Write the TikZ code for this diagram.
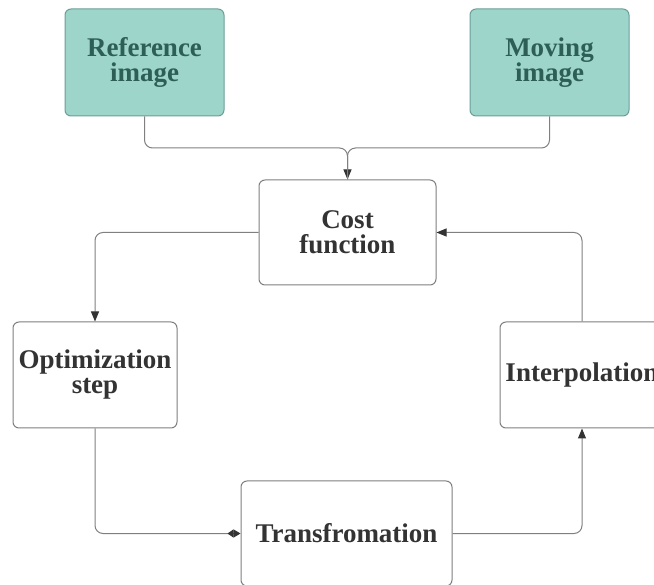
\documentclass[tikz,border=0pt]{standalone}
\usepackage{fontspec}
\setmainfont{Liberation Serif}
\usetikzlibrary{arrows.meta}
\definecolor{tealfill}{HTML}{9DD5CB}
\definecolor{tealdraw}{HTML}{6A9F96}
\definecolor{tealtext}{HTML}{2E5F57}
\definecolor{boxdraw}{HTML}{7F7F7F}
\definecolor{txt}{HTML}{333333}
\definecolor{linec}{HTML}{808080}
\begin{document}
\begin{tikzpicture}[x=1pt,y=-1pt,
  box/.style={draw=boxdraw,line width=1pt,rounded corners=6pt,fill=white,
    align=center,inner sep=0pt,text=txt,
    font=\fontsize{27}{25}\selectfont\bfseries},
  tealbox/.style={box,fill=tealfill,draw=tealdraw,text=tealtext},
  conn/.style={draw=linec,line width=1pt,rounded corners=8pt},
  tip/.style={-{Triangle[length=10pt,width=8pt,fill=txt,color=txt]}}
]
\useasboundingbox (0,0) rectangle (654,585);
\begin{scope}
\clip (0,0) rectangle (654,585);
\node[tealbox,minimum width=159pt,minimum height=107pt] (ref) at (144.5,62.5) {Reference\\image};
\node[tealbox,minimum width=159pt,minimum height=107pt] (mov) at (549.5,62.5) {Moving\\image};
\node[box,minimum width=177pt,minimum height=105pt] (cost) at (347.5,232.5) {Cost\\function};
\node[box,minimum width=164pt,minimum height=106pt] (opt) at (95,375) {Optimization\\step};
\node[box,minimum width=211pt,minimum height=105pt] (trans) at (346.5,533.5) {Transfromation};
\node[box,minimum width=164pt,minimum height=106pt] (interp) at (582,375) {Interpolation};
\coordinate (m) at (347.5,148);
\draw[conn,tip] (ref.south) |- (m) -- (cost.north);
\draw[conn] (mov.south) |- (m) -- (cost.north);
\draw[conn,tip] (cost.west) -| (opt.north);
\draw[conn,-{Triangle[reversed,length=6pt,width=8pt,fill=txt,color=txt]Triangle[length=7pt,width=8pt,fill=txt,color=txt]}] (opt.south) |- (trans.west);
\draw[conn,tip] (trans.east) -| (interp.south);
\draw[conn,tip] (interp.north) |- (cost.east);
\end{scope}
\end{tikzpicture}
\end{document}
